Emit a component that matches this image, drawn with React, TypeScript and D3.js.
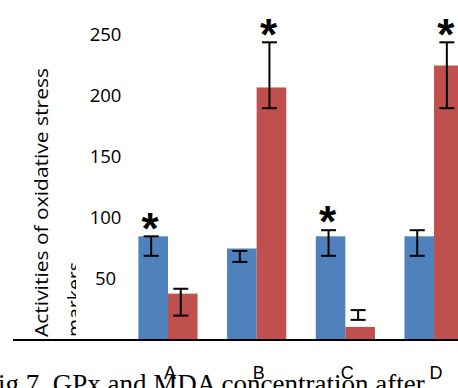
import React, { useEffect, useRef } from 'react';
import * as d3 from 'd3';

const categories = ["A", "B", "C", "D"];
const seriesNames = ["GPx", "MDA"];
const gpxValues = [85, 75, 85, 85];
const mdaValues = [38, 207, 10.7, 225];
const gpxErrLow = [69, 64, 69, 69];
const gpxErrHigh = [85, 73, 90, 90];
const mdaErrLow = [20, 190, 16.5, 190];
const mdaErrHigh = [42, 244, 24.5, 244];
const gpxSignificant = [true, false, true, false];
const mdaSignificant = [false, true, false, true];
const yTicks = [50, 100, 150, 200, 250];
const yTitleLines = ["Activities of oxidative stress", "markers"];
const caption = "Fig 7. GPx and MDA concentration after";

const App = () => {
    const svgRef = useRef<SVGSVGElement>(null);

    useEffect(() => {
        const svgWidth = 458;
        const svgHeight = 388;
        const baseY = 340;

        const svg = d3.select(svgRef.current)
            .attr("width", svgWidth)
            .attr("height", svgHeight)
            .html("");

        const colors = ["#4F81BD", "#C0504D"];

        const y = d3.scaleLinear().domain([0, 250]).range([baseY, 35]);

        const x = d3.scaleBand()
            .domain(categories)
            .range([123.6, 478.4])
            .paddingInner(0.333)
            .paddingOuter(0.1667);

        const xSub = d3.scaleBand()
            .domain(seriesNames)
            .range([0, x.bandwidth()]);

        const data = categories.flatMap((c, i) => [
            { cat: c, series: "GPx", value: gpxValues[i], lo: gpxErrLow[i], hi: gpxErrHigh[i], sig: gpxSignificant[i] },
            { cat: c, series: "MDA", value: mdaValues[i], lo: mdaErrLow[i], hi: mdaErrHigh[i], sig: mdaSignificant[i] },
        ]);
        const color = d3.scaleOrdinal<string>().domain(seriesNames).range(colors);
        const cx = (d) => (x(d.cat) as number) + (xSub(d.series) as number) + xSub.bandwidth() / 2 - 2;

        // caption underneath everything
        svg.append("text")
            .attr("x", -17)
            .attr("y", 393)
            .style("font-family", "'Liberation Serif', 'Times New Roman', serif")
            .style("font-size", "27px")
            .attr("fill", "#000")
            .text(caption);

        // y tick labels
        const yAxisG = svg.append("g")
            .attr("transform", "translate(105.5,0)")
            .call(d3.axisLeft(y).tickValues(yTicks).tickSize(0).tickPadding(0));
        yAxisG.select(".domain").remove();
        yAxisG.selectAll("text")
            .attr("x", 0)
            .attr("text-anchor", "middle")
            .style("font-family", "'Open Sans', sans-serif")
            .style("font-size", "18.5px")
            .attr("fill", "#000");

        // y title
        svg.append("clipPath").attr("id", "titleClip")
            .append("rect").attr("x", 0).attr("y", 0).attr("width", 76).attr("height", svgHeight);
        const title = svg.append("g").attr("clip-path", "url(#titleClip)");
        title.selectAll("text")
            .data(yTitleLines)
            .enter()
            .append("text")
            .attr("transform", (d, i) => `translate(${48 + i * 33},337) rotate(-90)`)
            .attr("textLength", (d, i) => (i === 0 ? 269 : 75))
            .attr("lengthAdjust", "spacingAndGlyphs")
            .style("font-family", "'Open Sans', sans-serif")
            .style("font-size", "19px")
            .attr("fill", "#000")
            .text(d => d);

        // bars
        svg.selectAll(".bar")
            .data(data)
            .enter()
            .append("rect")
            .attr("class", "bar")
            .attr("x", d => (x(d.cat) as number) + (xSub(d.series) as number))
            .attr("width", xSub.bandwidth())
            .attr("y", d => y(d.value))
            .attr("height", d => baseY - y(d.value))
            .attr("fill", d => color(d.series));

        // error bars
        const err = svg.selectAll(".err").data(data).enter().append("g").attr("class", "err")
            .attr("stroke", "#000").attr("stroke-width", 2);
        err.append("line")
            .attr("x1", cx).attr("x2", cx)
            .attr("y1", d => y(d.hi)).attr("y2", d => y(d.lo));
        err.append("line")
            .attr("x1", d => cx(d) - 7.5).attr("x2", d => cx(d) + 7.5)
            .attr("y1", d => y(d.hi)).attr("y2", d => y(d.hi));
        err.append("line")
            .attr("x1", d => cx(d) - 7.5).attr("x2", d => cx(d) + 7.5)
            .attr("y1", d => y(d.lo)).attr("y2", d => y(d.lo));

        // significance markers
        svg.selectAll(".sig")
            .data(data.filter(d => d.sig))
            .enter()
            .append("text")
            .attr("class", "sig")
            .attr("x", d => cx(d) - 1)
            .attr("y", d => y(d.hi) - 20)
            .attr("dy", "0.62em")
            .attr("text-anchor", "middle")
            .style("font-family", "'Liberation Sans', Arial, sans-serif")
            .style("font-size", "44px")
            .style("font-weight", "bold")
            .attr("fill", "#000")
            .text("*");

        // baseline
        svg.append("line")
            .attr("x1", 13).attr("x2", svgWidth)
            .attr("y1", baseY).attr("y2", baseY)
            .attr("stroke", "#000").attr("stroke-width", 2);

        // category labels
        svg.selectAll(".cat")
            .data(categories)
            .enter()
            .append("text")
            .attr("class", "cat")
            .attr("x", d => (x(d) as number) + x.bandwidth() / 2 + 2)
            .attr("y", 379)
            .attr("text-anchor", "middle")
            .style("font-family", "'Liberation Sans', Arial, sans-serif")
            .style("font-size", "18px")
            .attr("fill", "#000")
            .text(d => d);
    }, []);

    return <svg ref={svgRef} style={{ position: "absolute", left: 0, top: 0, background: "#fff" }} />;
};

export default App;
